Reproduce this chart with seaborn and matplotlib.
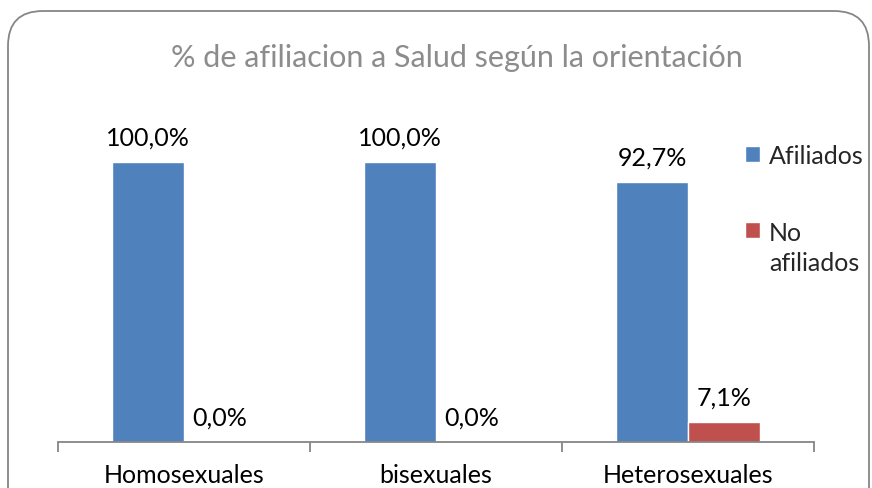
import pandas as pd
import matplotlib.pyplot as plt
import seaborn as sns
from matplotlib.patches import FancyBboxPatch

# data
categories = ["Homosexuales", "bisexuales", "Heterosexuales"]
afiliados = [100.0, 100.0, 92.7]
no_afiliados = [0.0, 0.0, 7.1]
series_names = ["Afiliados", "No\nafiliados"]
title = "% de afiliacion a Salud según la orientación"

BLUE = "#4F81BD"
RED = "#C0504D"
GREY = "#868686"
FONT = ["Lato", "DejaVu Sans"]

df = pd.DataFrame({
    "Orientacion": categories * 2,
    "Serie": [series_names[0]] * 3 + [series_names[1]] * 3,
    "Valor": afiliados + no_afiliados,
})

sns.set_theme(style="white")
plt.rcParams["font.family"] = FONT

W, H = 872, 489
fig = plt.figure(figsize=(W / 100, H / 100), dpi=100)

# rounded chart border (bottom edge runs off the picture)
border = FancyBboxPatch((8 / W, -40 / H), 861 / W, (H - 12 + 40) / H,
                        boxstyle="round,pad=0,rounding_size=0.04",
                        transform=fig.transFigure, facecolor="white",
                        edgecolor=GREY, linewidth=1.3, mutation_aspect=W / H,
                        zorder=-10)
fig.patches.append(border)

ax = fig.add_axes([58 / W, 46 / H, 756 / W, 336 / H])
ax.patch.set_alpha(0)
ax.set_zorder(5)

sns.barplot(data=df, x="Orientacion", y="Valor", hue="Serie", order=categories,
            hue_order=series_names, palette=[BLUE, RED], saturation=1,
            width=0.571, dodge=True, ax=ax, legend=True)

ax.set_xlim(-0.5, 2.5)
ax.set_ylim(0, 120)
ax.set_xlabel("")
ax.set_ylabel("")
ax.set_yticks([])
for s in ["top", "right", "left"]:
    ax.spines[s].set_visible(False)
ax.spines["bottom"].set_color(GREY)
ax.spines["bottom"].set_linewidth(1.3)

ax.set_xticks(range(len(categories)))
ax.set_xticklabels(categories, fontsize=18, color="black")
ax.tick_params(axis="x", which="major", length=0, pad=15)
ax.set_xticks([-0.5, 0.5, 1.5, 2.5], minor=True)
ax.tick_params(axis="x", which="minor", length=7, width=1.3, color=GREY,
               direction="out", bottom=True)

for cont in ax.containers:
    for bar in cont:
        v = bar.get_height()
        ax.annotate(f"{v:.1f}%".replace(".", ","),
                    (bar.get_x() + bar.get_width() / 2, v),
                    xytext=(0, 25), textcoords="offset pixels",
                    ha="center", va="center", fontsize=18, color="black")

leg = ax.legend(loc="upper left", bbox_to_anchor=(745 / W, 1 - 145 / H),
                bbox_transform=fig.transFigure, frameon=False, fontsize=18,
                handlelength=0.6, handleheight=0.6, handletextpad=0.35,
                labelspacing=2.15, borderaxespad=0, borderpad=0)
for t in leg.get_texts():
    t.set_linespacing(1.4)
# align the red square with the first line of its two-line label
h = leg.legend_handles[1]
h.set_y(h.get_y() + 13)

fig.text(457 / W, 1 - 58 / H, title, ha="center", va="center",
         fontsize=22, color="#8C8C8C")

fig.savefig("out.png", dpi=100)
